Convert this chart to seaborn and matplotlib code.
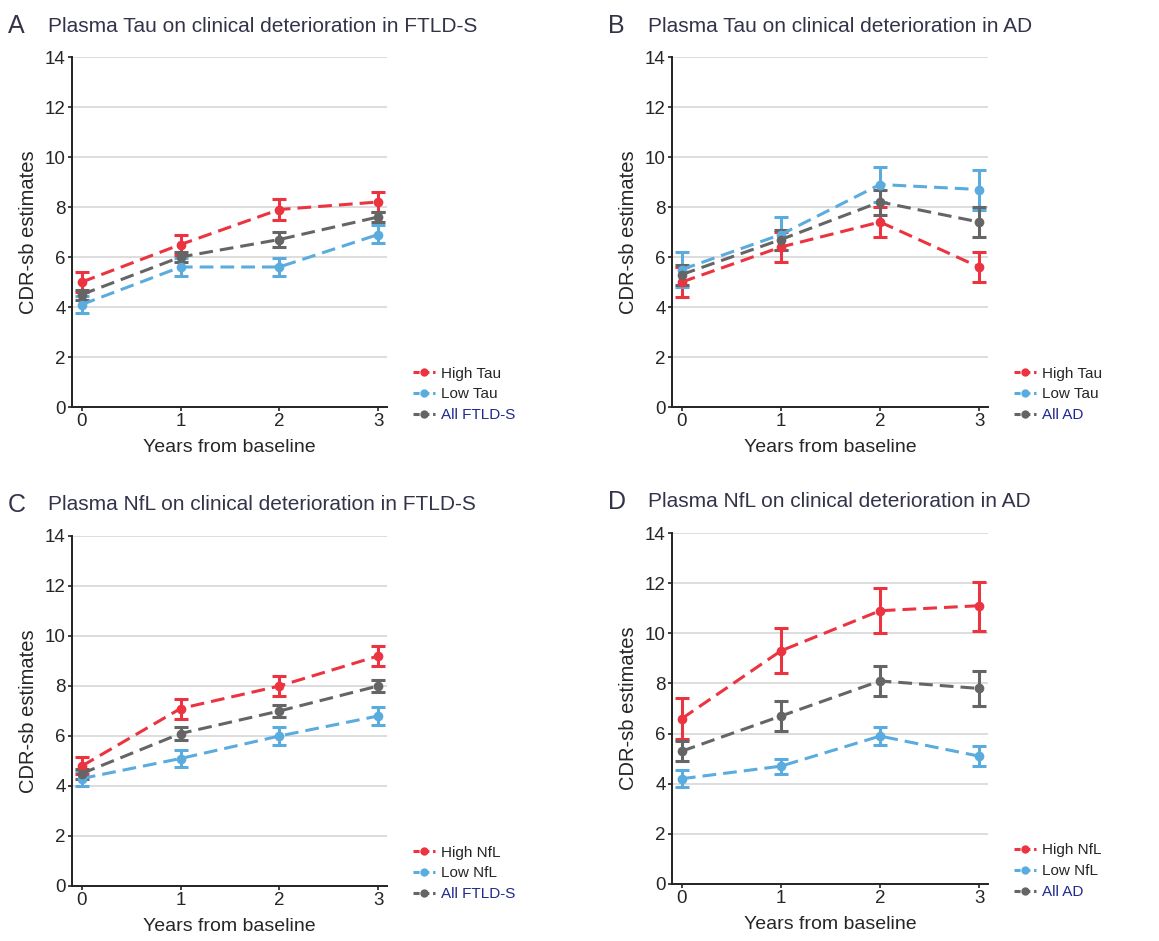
import numpy as np
import pandas as pd
import matplotlib
matplotlib.use("Agg")
import matplotlib.pyplot as plt
import seaborn as sns

years = [0, 1, 2, 3]

# panel A: plasma tau, FTLD-S
a_high = [5.0, 6.5, 7.9, 8.2]
a_high_lo = [4.6, 6.1, 7.5, 7.8]
a_high_hi = [5.4, 6.9, 8.3, 8.6]
a_low = [4.1, 5.6, 5.6, 6.9]
a_low_lo = [3.75, 5.25, 5.25, 6.55]
a_low_hi = [4.45, 5.95, 5.95, 7.3]
a_all = [4.5, 6.0, 6.7, 7.6]
a_all_lo = [4.3, 5.8, 6.4, 7.4]
a_all_hi = [4.7, 6.2, 7.0, 7.8]

# panel B: plasma tau, AD
b_high = [5.0, 6.4, 7.4, 5.6]
b_high_lo = [4.4, 5.8, 6.8, 5.0]
b_high_hi = [5.6, 7.0, 8.0, 6.2]
b_low = [5.5, 6.9, 8.9, 8.7]
b_low_lo = [4.8, 6.3, 8.2, 7.9]
b_low_hi = [6.2, 7.6, 9.6, 9.5]
b_all = [5.3, 6.7, 8.2, 7.4]
b_all_lo = [4.9, 6.3, 7.7, 6.8]
b_all_hi = [5.7, 7.1, 8.7, 8.0]

# panel C: plasma NfL, FTLD-S
c_high = [4.8, 7.1, 8.0, 9.2]
c_high_lo = [4.5, 6.7, 7.6, 8.8]
c_high_hi = [5.15, 7.5, 8.4, 9.6]
c_low = [4.3, 5.1, 6.0, 6.8]
c_low_lo = [4.0, 4.75, 5.65, 6.45]
c_low_hi = [4.6, 5.45, 6.35, 7.15]
c_all = [4.5, 6.1, 7.0, 8.0]
c_all_lo = [4.3, 5.85, 6.75, 7.75]
c_all_hi = [4.7, 6.35, 7.25, 8.25]

# panel D: plasma NfL, AD
d_high = [6.6, 9.3, 10.9, 11.1]
d_high_lo = [5.8, 8.4, 10.0, 10.1]
d_high_hi = [7.4, 10.2, 11.8, 12.05]
d_low = [4.2, 4.7, 5.9, 5.1]
d_low_lo = [3.85, 4.4, 5.55, 4.7]
d_low_hi = [4.55, 5.0, 6.25, 5.5]
d_all = [5.3, 6.7, 8.1, 7.8]
d_all_lo = [4.9, 6.1, 7.5, 7.1]
d_all_hi = [5.7, 7.3, 8.7, 8.5]

panel_letters = ["A", "B", "C", "D"]
panel_titles = [
    "Plasma Tau on clinical deterioration in FTLD-S",
    "Plasma Tau on clinical deterioration in AD",
    "Plasma NfL on clinical deterioration in FTLD-S",
    "Plasma NfL on clinical deterioration in AD",
]
group_labels = [
    ["High Tau", "Low Tau", "All FTLD-S"],
    ["High Tau", "Low Tau", "All AD"],
    ["High NfL", "Low NfL", "All FTLD-S"],
    ["High NfL", "Low NfL", "All AD"],
]
panel_series = [
    [(a_high, a_high_lo, a_high_hi), (a_low, a_low_lo, a_low_hi), (a_all, a_all_lo, a_all_hi)],
    [(b_high, b_high_lo, b_high_hi), (b_low, b_low_lo, b_low_hi), (b_all, b_all_lo, b_all_hi)],
    [(c_high, c_high_lo, c_high_hi), (c_low, c_low_lo, c_low_hi), (c_all, c_all_lo, c_all_hi)],
    [(d_high, d_high_lo, d_high_hi), (d_low, d_low_lo, d_low_hi), (d_all, d_all_lo, d_all_hi)],
]

COLORS = ["#ec3340", "#5aacdf", "#656565"]
TITLE_COL = "#33334a"
NAVY = "#1e2a8c"

sns.set_style("white")
plt.rcParams["font.family"] = ["Liberation Sans", "DejaVu Sans"]

fig = plt.figure(figsize=(11.59, 9.41), dpi=100)
W, H = 1159, 941
# axes boxes in pixels: left, top, right, bottom
boxes = [(72, 57, 387, 407), (672, 57, 988, 407),
         (72, 536, 387, 886), (672, 533, 988, 884)]

for i in range(4):
    l, t, r, b = boxes[i]
    ax = fig.add_axes([l / W, 1 - b / H, (r - l) / W, (b - t) / H])
    rows = []
    for lab, (mid, lo, hi) in zip(group_labels[i], panel_series[i]):
        for y, m in zip(years, mid):
            rows.append({"year": y, "est": m, "group": lab})
    df = pd.DataFrame(rows)
    order = group_labels[i]
    # error bars: grey first, then blue, red on top
    for k in [2, 1, 0]:
        mid, lo, hi = panel_series[i][k]
        ax.errorbar(years, mid,
                    yerr=[np.array(mid) - np.array(lo), np.array(hi) - np.array(mid)],
                    fmt="none", ecolor=COLORS[k], elinewidth=2.2, capsize=5,
                    capthick=2.2, zorder=3 + k * 0.1)
    sns.lineplot(data=df, x="year", y="est", hue="group", hue_order=order,
                 palette=COLORS, marker="o", markersize=7, markeredgewidth=0,
                 linewidth=2.2, dashes=False, linestyle=(0, (4.5, 2.3)),
                 ax=ax, zorder=4)

    ax.set_xlim(-0.1, 3.09)
    ax.set_ylim(0, 14)
    ax.set_xticks(years)
    ax.set_yticks(range(0, 15, 2))
    ax.yaxis.grid(True, color="#d7d7d7", linewidth=1.2)
    ax.xaxis.grid(False)
    ax.set_axisbelow(True)
    for s in ["top", "right"]:
        ax.spines[s].set_visible(False)
    for s in ["left", "bottom"]:
        ax.spines[s].set_color("#222222")
        ax.spines[s].set_linewidth(1.4)
    ax.tick_params(axis="both", which="major", length=3, width=1.2, color="#222222",
                   labelsize=13.5, pad=1.5, direction="out", bottom=True, left=True)
    ax.set_xlabel("Years from baseline", fontsize=14, labelpad=6)
    ax.set_ylabel("CDR-sb estimates", fontsize=14.5, labelpad=5)

    leg = ax.legend(loc="center left", bbox_to_anchor=(1.083, 0.036), frameon=False,
                    fontsize=11, handlelength=1.4, handletextpad=0.4,
                    labelspacing=0.45, borderpad=0, borderaxespad=0)
    for h in leg.get_lines():
        h.set_linestyle((0, (2, 1.2)))
        h.set_markersize(6)
    leg.get_texts()[2].set_color(NAVY)

    # panel letter and title
    fig.text((l - 64) / W, 1 - (t - 31) / H, panel_letters[i], fontsize=18,
             color=TITLE_COL, va="center", ha="left")
    fig.text((l - 24) / W, 1 - (t - 31) / H, panel_titles[i], fontsize=15,
             color=TITLE_COL, va="center", ha="left")

fig.savefig("out.png", dpi=100)
